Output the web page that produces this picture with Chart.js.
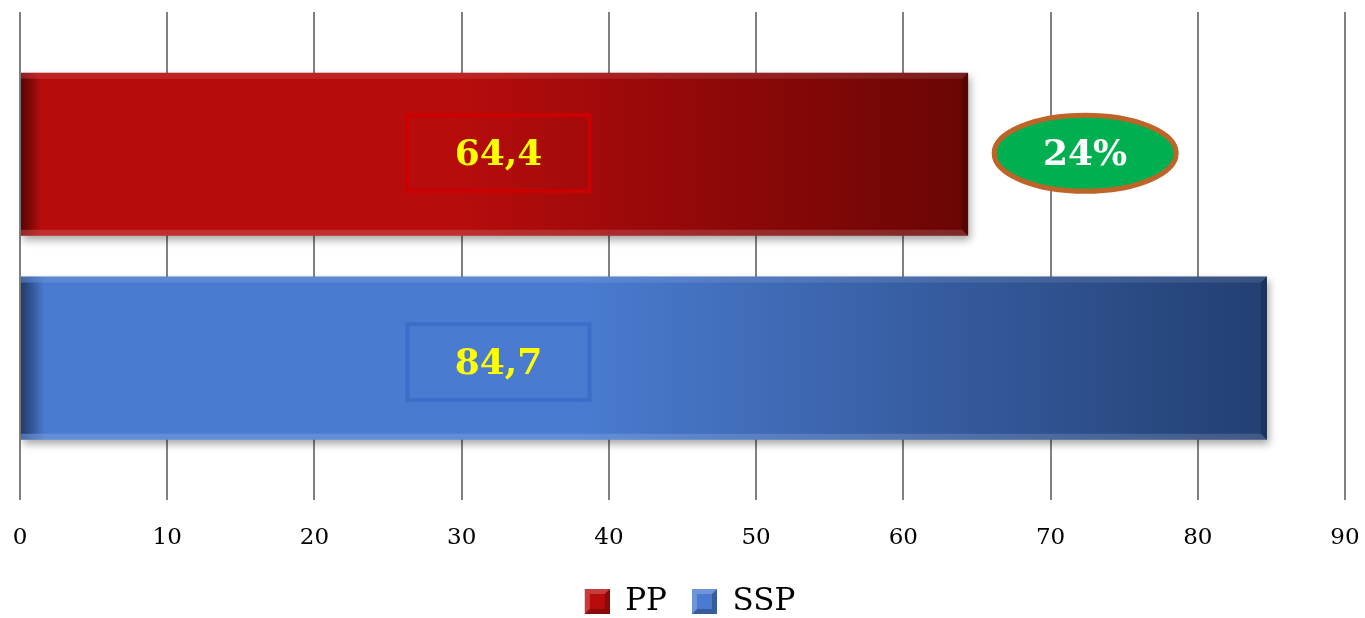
<!DOCTYPE html>
<html>
<head>
<meta charset="utf-8">
<script src="https://cdn.jsdelivr.net/npm/chart.js@4"></script>
<style>
  html, body { margin: 0; padding: 0; background: #fff; }
  #wrap { width: 1365px; height: 618px; }
</style>
</head>
<body>
<div id="wrap"><canvas id="chart"></canvas></div>
<script>
// values
const seriesNames = ['PP', 'SSP'];
const seriesValues = [64.4, 84.7];
const xTicks = [0, 10, 20, 30, 40, 50, 60, 70, 80, 90];

// bar colours: edge, light, dark end, label box border
const seriesColors = [
    { edge: '#7c0606', light: '#b80c0c', dark: '#6a0505', border: '#cc0000' },
    { edge: '#2f5497', light: '#4a7bd0', dark: '#233f72', border: '#3d6cc9' }
];

const SERIF = "'DejaVu Serif', 'Liberation Serif', serif";

function fmt(v) {
    return v.toFixed(1).replace('.', ',');
}

// beveled square for the legend, with blank space on its left as item gap
function makeSwatch(c) {
    const cv = document.createElement('canvas');
    cv.width = 40; cv.height = 25;
    const g = cv.getContext('2d');
    g.translate(15, 0);
    g.fillStyle = c.light;
    g.fillRect(0, 0, 25, 25);
    g.fillStyle = 'rgba(0,0,0,0.25)';
    g.beginPath(); g.moveTo(25, 0); g.lineTo(25, 25); g.lineTo(0, 25); g.lineTo(5, 20); g.lineTo(20, 20); g.lineTo(20, 5); g.closePath(); g.fill();
    g.fillStyle = 'rgba(255,255,255,0.2)';
    g.beginPath(); g.moveTo(0, 0); g.lineTo(25, 0); g.lineTo(20, 5); g.lineTo(5, 5); g.lineTo(5, 20); g.lineTo(0, 25); g.closePath(); g.fill();
    return cv;
}

function barGradient(context, c) {
    const chart = context.chart;
    const area = chart.chartArea;
    if (!area) return c.light;
    const x = chart.scales.x;
    const end = x.getPixelForValue(context.raw);
    const grd = chart.ctx.createLinearGradient(area.left, 0, end, 0);
    grd.addColorStop(0, c.edge);
    grd.addColorStop(0.02, c.light);
    grd.addColorStop(0.45, c.light);
    grd.addColorStop(1, c.dark);
    return grd;
}

// soft drop shadow under the bars
const barShadow = {
    id: 'barShadow',
    beforeDatasetsDraw(chart) {
        const ctx = chart.ctx;
        ctx.save();
        ctx.shadowColor = 'rgba(0,0,0,0.35)';
        ctx.shadowBlur = 8;
        ctx.shadowOffsetX = 2;
        ctx.shadowOffsetY = 4;
    },
    afterDatasetsDraw(chart) {
        chart.ctx.restore();
    }
};

// bevel edges on each bar
const barBevel = {
    id: 'barBevel',
    afterDatasetsDraw(chart) {
        const ctx = chart.ctx;
        ctx.save();
        chart.data.datasets.forEach((ds, i) => {
            chart.getDatasetMeta(i).data.forEach(bar => {
                const l = bar.base, r = bar.x;
                const t = bar.y - bar.height / 2, b = bar.y + bar.height / 2;
                const e = 6;
                // top
                ctx.fillStyle = 'rgba(255,255,255,0.10)';
                ctx.beginPath(); ctx.moveTo(l, t); ctx.lineTo(r, t); ctx.lineTo(r - e, t + e); ctx.lineTo(l, t + e); ctx.closePath(); ctx.fill();
                // bottom
                ctx.fillStyle = 'rgba(255,255,255,0.14)';
                ctx.beginPath(); ctx.moveTo(l, b); ctx.lineTo(r, b); ctx.lineTo(r - e, b - e); ctx.lineTo(l, b - e); ctx.closePath(); ctx.fill();
                // right end
                ctx.fillStyle = 'rgba(0,0,0,0.18)';
                ctx.beginPath(); ctx.moveTo(r, t); ctx.lineTo(r, b); ctx.lineTo(r - e, b - e); ctx.lineTo(r - e, t + e); ctx.closePath(); ctx.fill();
                // left shading
                const lg = ctx.createLinearGradient(l, 0, l + 22, 0);
                lg.addColorStop(0, 'rgba(0,0,0,0.30)');
                lg.addColorStop(1, 'rgba(0,0,0,0)');
                ctx.fillStyle = lg;
                ctx.fillRect(l, t + e, 22, bar.height - 2 * e);
            });
        });
        ctx.restore();
    }
};

// boxed value labels and the difference badge
const valueLabels = {
    id: 'valueLabels',
    afterDatasetsDraw(chart) {
        const ctx = chart.ctx;
        const x = chart.scales.x;
        const labelX = x.getPixelForValue(32.5);
        ctx.save();
        ctx.textAlign = 'center';
        ctx.textBaseline = 'middle';
        chart.data.datasets.forEach((ds, i) => {
            const bar = chart.getDatasetMeta(i).data[0];
            const cy = bar.y + (i === 0 ? -1 : 4);
            ctx.strokeStyle = seriesColors[i].border;
            ctx.lineWidth = 4;
            ctx.strokeRect(labelX - 91, cy - 38, 182, 76);
            ctx.fillStyle = '#ffff00';
            ctx.font = 'bold 36px ' + SERIF;
            ctx.fillText(fmt(ds.data[0]), labelX, cy + 2);
        });

        // relative gap between the two series
        const diff = Math.round((seriesValues[1] - seriesValues[0]) / seriesValues[1] * 100);
        const top = chart.getDatasetMeta(0).data[0];
        const ex = x.getPixelForValue(72.35), ey = top.y - 1;
        ctx.beginPath();
        ctx.ellipse(ex, ey, 91, 38, 0, 0, Math.PI * 2);
        ctx.fillStyle = '#00b050';
        ctx.fill();
        ctx.lineWidth = 5;
        ctx.strokeStyle = '#bf6428';
        ctx.stroke();
        ctx.fillStyle = '#ffffff';
        ctx.font = 'bold 36px ' + SERIF;
        ctx.fillText(diff + '%', ex, ey + 2);
        ctx.restore();
    }
};

new Chart(document.getElementById('chart'), {
    type: 'bar',
    data: {
        labels: [''],
        datasets: seriesNames.map((name, i) => ({
            label: name,
            data: [seriesValues[i]],
            backgroundColor: ctx => barGradient(ctx, seriesColors[i]),
            borderWidth: 0,
            categoryPercentage: 0.835,
            barPercentage: 0.8,
            pointStyle: makeSwatch(seriesColors[i])
        }))
    },
    options: {
        indexAxis: 'y',
        responsive: true,
        maintainAspectRatio: false,
        animation: false,
        layout: { padding: { left: 20, right: 20, top: 12, bottom: -9 } },
        scales: {
            x: {
                min: 0,
                max: 90,
                afterBuildTicks: axis => { axis.ticks = xTicks.map(v => ({ value: v })); },
                afterFit: axis => { axis.paddingLeft = 0; axis.paddingRight = 0; },
                grid: { color: '#808080', lineWidth: 2, drawTicks: false },
                border: { display: false },
                ticks: { color: '#000', padding: 24, font: { family: SERIF, size: 23 } }
            },
            y: { display: false }
        },
        plugins: {
            legend: {
                position: 'bottom',
                labels: {
                    usePointStyle: true,
                    pointStyleWidth: 40,
                    boxHeight: 25,
                    color: '#000',
                    padding: 10,
                    font: { family: SERIF, size: 31 }
                }
            },
            tooltip: { enabled: false }
        }
    },
    plugins: [barShadow, barBevel, valueLabels]
});
</script>
</body>
</html>
